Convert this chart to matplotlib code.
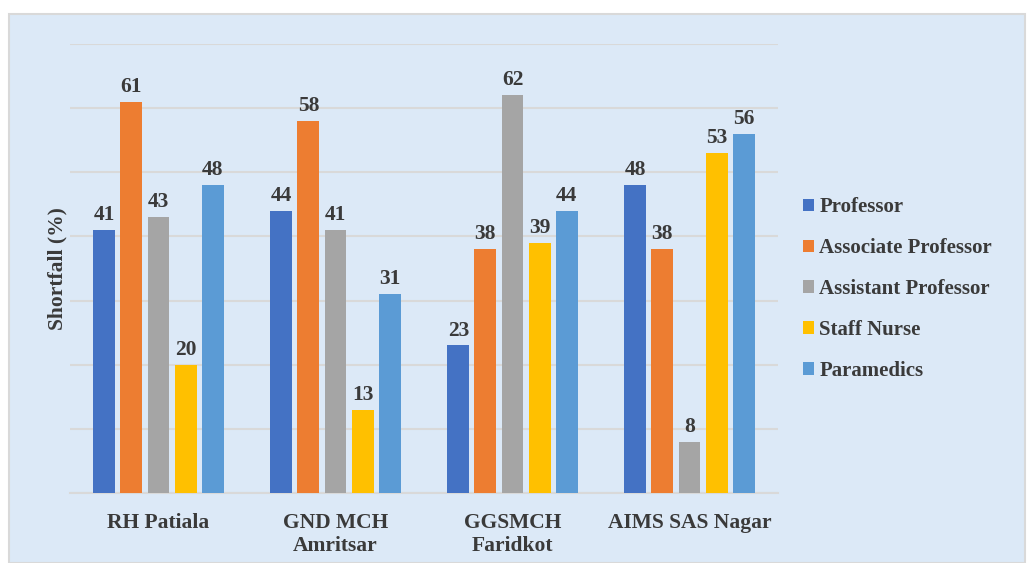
import matplotlib
matplotlib.use("Agg")
import matplotlib.pyplot as plt
import numpy as np
from matplotlib.patches import Rectangle

categories = ["RH Patiala", "GND MCH\nAmritsar", "GGSMCH\nFaridkot", "AIMS SAS Nagar"]
series_names = ["Professor", "Associate Professor", "Assistant Professor", "Staff Nurse", "Paramedics"]
professor = [41, 44, 23, 48]
associate_professor = [61, 58, 38, 38]
assistant_professor = [43, 41, 62, 8]
staff_nurse = [20, 13, 39, 53]
paramedics = [48, 31, 44, 56]
series_values = [professor, associate_professor, assistant_professor, staff_nurse, paramedics]
colors = ["#4472C4", "#ED7D31", "#A5A5A5", "#FFC000", "#5B9BD5"]

plt.rcParams['font.family'] = ['Liberation Serif', 'DejaVu Serif']
text_color = "#3a3a3a"

fig = plt.figure(figsize=(10.30, 5.63), dpi=100)
fig.patch.set_facecolor("white")
bg = Rectangle((9/1030, 0), (1025-9)/1030, (563-14)/563,
               transform=fig.transFigure, facecolor="#dce9f7",
               edgecolor="#d9d9d9", linewidth=1.5, zorder=-10)
fig.add_artist(bg)

ax = fig.add_axes([70/1030, 70/563, (778-70)/1030, (493-44)/563])
ax.set_zorder(1)
ax.set_facecolor("none")
x = np.arange(len(categories))
step = 0.153
width = 0.124
for i, (name, vals, c) in enumerate(zip(series_names, series_values, colors)):
    pos = x + (i - 2) * step
    bars = ax.bar(pos, vals, width, color=c, label=name, zorder=3)
    for b, v in zip(bars, vals):
        ax.annotate(str(v), (b.get_x() + b.get_width()/2, v), xytext=(0, 3.5),
                    textcoords="offset points", ha="center", va="bottom",
                    fontsize=15.5, fontweight="bold", color=text_color)

ax.set_xlim(-0.5, 3.5)
ax.set_ylim(0, 70)
ax.set_yticks(np.arange(0, 71, 10))
ax.yaxis.grid(True, color="#d9d9d9", linewidth=1.5, zorder=0)
ax.set_axisbelow(True)
ax.tick_params(axis="y", left=False, labelleft=False)
ax.tick_params(axis="x", bottom=False, pad=11)
ax.set_xticks(x)
ax.set_xticklabels(categories, fontsize=15.5, fontweight="bold", color=text_color, linespacing=1.2)
for s in ["top", "right", "left"]:
    ax.spines[s].set_visible(False)
ax.spines["bottom"].set_color("#d9d9d9")
ax.spines["bottom"].set_linewidth(1.5)
ax.set_ylabel("Shortfall (%)", fontsize=15.5, fontweight="bold", color=text_color, labelpad=2)

leg = fig.legend(loc="center left", bbox_to_anchor=(784/1030, (563-289)/563),
                 frameon=False, handlelength=0.55, handleheight=0.55, handletextpad=0.25,
                 labelspacing=1.0, prop={"weight": "bold", "size": 15})
for t in leg.get_texts():
    t.set_color(text_color)

fig.savefig("out.png", dpi=100)
